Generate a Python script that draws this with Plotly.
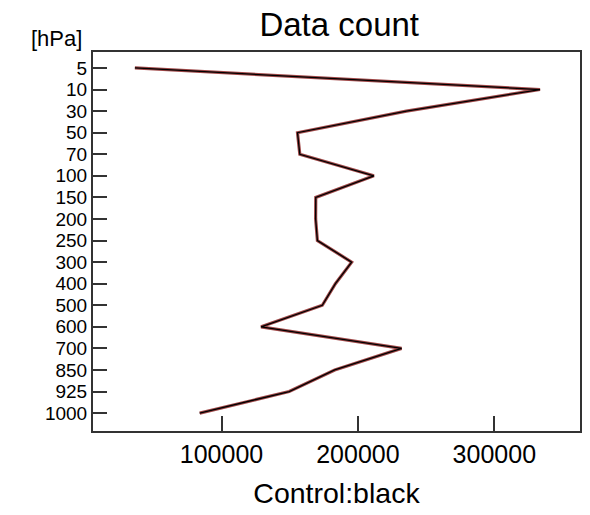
import plotly.graph_objects as go

levels = ["5", "10", "30", "50", "70", "100", "150", "200", "250", "300",
          "400", "500", "600", "700", "850", "925", "1000"]
control_counts = [36500, 333500, 235500, 155700, 157400, 211700, 169100, 169000,
                  170300, 195400, 183500, 173900, 129000, 232000, 183000, 149600, 84000]
test_counts = list(control_counts)

xticks = [100000, 200000, 300000]
xtick_text = ["100000", "200000", "300000"]

FONT = "Liberation Sans, Arial, sans-serif"

fig = go.Figure()
fig.add_trace(go.Scatter(x=test_counts, y=levels, mode="lines",
                         line=dict(color="#a04848", width=3.2), showlegend=False))
fig.add_trace(go.Scatter(x=control_counts, y=levels, mode="lines",
                         line=dict(color="black", width=1.3), showlegend=False))

fig.update_layout(
    width=590, height=515,
    margin=dict(l=93, r=8, t=52, b=84),
    paper_bgcolor="white", plot_bgcolor="white",
    font=dict(family=FONT, color="black"),
    title=dict(text="Data count", x=0.575, xanchor="center", y=0.953, yanchor="middle",
               font=dict(size=33, color="black", family=FONT)),
)
fig.update_xaxes(
    range=[5800, 362800], tickmode="array", tickvals=xticks, ticktext=xtick_text,
    ticks="inside", ticklen=15, tickwidth=2, tickcolor="#333",
    showline=True, linecolor="#333", linewidth=2, mirror=True,
    showgrid=False, zeroline=False,
    tickfont=dict(size=25, family=FONT, color="black"),
    title=dict(text="Control:black", font=dict(size=28.5, family=FONT, color="black"), standoff=16),
)
fig.update_yaxes(
    type="category", categoryorder="array", categoryarray=levels,
    tickmode="array", tickvals=levels, ticktext=levels,
    range=[16.83, -0.74],
    ticks="inside", ticklen=14, tickwidth=2, tickcolor="#333",
    showline=True, linecolor="#333", linewidth=2, mirror=True,
    showgrid=False, zeroline=False,
    tickfont=dict(size=19, family=FONT, color="black"),
)
fig.add_annotation(text="[hPa]", xref="paper", yref="paper", x=-0.075, y=1.0,
                   xanchor="center", yanchor="bottom", yshift=-1, showarrow=False,
                   font=dict(size=22, family=FONT, color="black"))

fig.write_html("out.html")
